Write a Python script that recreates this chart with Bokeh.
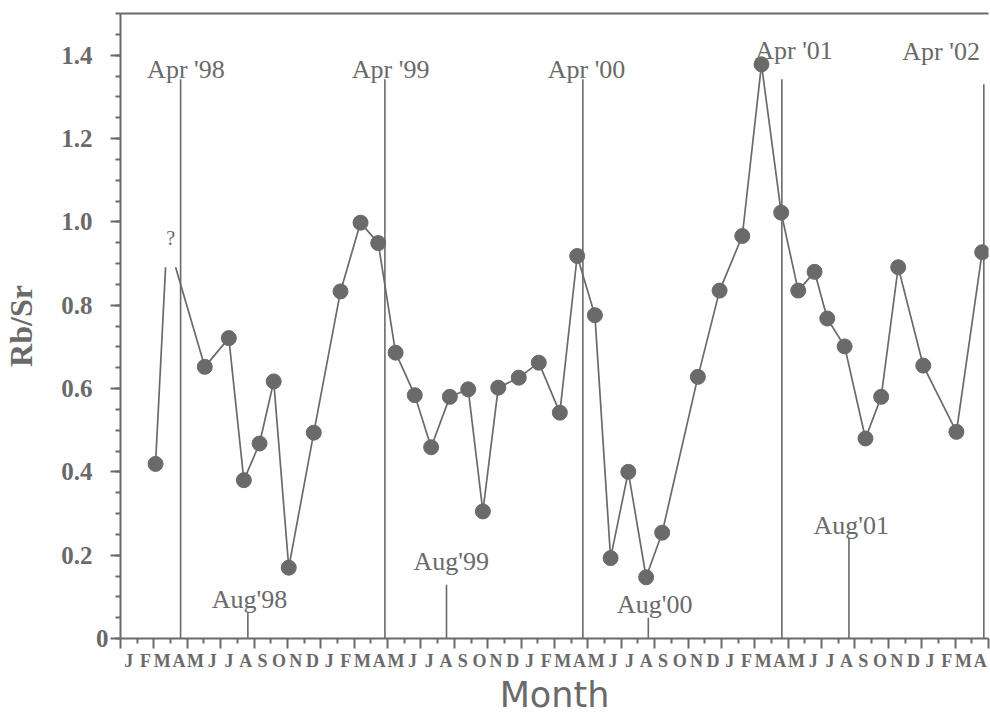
import math
from bokeh.plotting import figure
from bokeh.models import LinearAxis, FixedTicker, Range1d
from bokeh.core.properties import value
from bokeh.embed import file_html
from bokeh.resources import INLINE

# ---- data ----
month_letters = list("JFMAMJJASOND") * 4 + list("JFMA")   # Jan 1998 .. Apr 2002
month_pos = [2.10, 5.05, 6.49, 7.39, 8.33, 9.18, 10.08, 11.58, 13.18, 14.38,
             15.44, 16.48, 17.63, 18.61, 19.73, 20.83, 21.71, 22.63, 23.86, 25.06,
             26.32, 27.36, 28.42, 29.36, 30.42, 31.49, 32.45, 34.59, 35.89, 37.25,
             38.40, 39.58, 40.60, 41.58, 42.34, 43.38, 44.63, 45.57, 46.59, 48.09,
             50.08, 51.62]
rb_sr = [0.419, 0.652, 0.721, 0.380, 0.468, 0.617, 0.170, 0.494, 0.833, 0.998,
         0.949, 0.686, 0.584, 0.459, 0.580, 0.598, 0.305, 0.602, 0.626, 0.662,
         0.542, 0.918, 0.776, 0.193, 0.400, 0.147, 0.254, 0.628, 0.835, 0.966,
         1.378, 1.022, 0.835, 0.880, 0.768, 0.701, 0.480, 0.580, 0.891, 0.655,
         0.496, 0.927]
uncertain_x = [2.70, 3.30]
uncertain_y = [0.891, 0.891]
uncertain_label = "?"
uncertain_label_x = [3.0]
uncertain_label_y = [0.961]

apr_labels = ["Apr '98", "Apr '99", "Apr '00", "Apr '01", "Apr '02"]
apr_x = [3.60, 15.84, 27.70, 39.62, 51.72]
apr_top = [1.342, 1.342, 1.342, 1.342, 1.330]
apr_label_x = [3.92, 16.18, 27.92, 40.35, 49.16]
apr_label_y = [1.366, 1.366, 1.366, 1.411, 1.409]

aug_labels = ["Aug'98", "Aug'99", "Aug'00", "Aug'01"]
aug_x = [7.63, 19.53, 31.62, 43.64]
aug_top = [0.062, 0.129, 0.050, 0.242]
aug_label_x = [7.73, 19.81, 32.01, 43.78]
aug_label_y = [0.094, 0.185, 0.081, 0.272]

y_major = [0, 0.2, 0.4, 0.6, 0.8, 1.0, 1.2, 1.4]
y_minor = [round(0.05 * i, 2) for i in range(31)]

# ---- styling ----
GRAY = "#6a6a6a"
SERIF = "Liberation Serif"

n_months = len(month_letters)
p = figure(width=990, height=717, output_backend="svg", toolbar_location=None,
           x_range=Range1d(0, n_months), y_range=Range1d(0, 1.5),
           x_axis_location=None, y_axis_location=None,
           min_border_left=120, min_border_top=13, min_border_bottom=77,
           min_border_right=2)
p.xgrid.visible = False
p.ygrid.visible = False
p.outline_line_color = None
p.background_fill_color = "white"
p.border_fill_color = "white"

# x axis: tick marks only
xa = LinearAxis(ticker=FixedTicker(ticks=list(range(0, n_months + 1, 2)),
                                   minor_ticks=list(range(1, n_months, 2))))
xa.major_label_overrides = {i: "" for i in range(0, n_months + 1, 2)}
xa.major_label_text_font_size = "1px"
xa.major_label_standoff = 0
xa.axis_line_color = GRAY
xa.axis_line_width = 2
xa.major_tick_line_color = GRAY
xa.minor_tick_line_color = GRAY
xa.major_tick_line_width = 2
xa.minor_tick_line_width = 2
xa.major_tick_in = 0
xa.minor_tick_in = 0
xa.major_tick_out = 10
xa.minor_tick_out = 5
p.add_layout(xa, "below")

# x axis: month letters
label_pos = [i + 0.5 for i in range(n_months)]
xl = LinearAxis(ticker=FixedTicker(ticks=label_pos, minor_ticks=[]))
xl.major_label_overrides = {lp: m for lp, m in zip(label_pos, month_letters)}
xl.major_label_text_font = SERIF
xl.major_label_text_font_style = "bold"
xl.major_label_text_font_size = "18px"
xl.major_label_text_color = GRAY
xl.major_label_standoff = 2
xl.axis_line_color = None
xl.major_tick_line_color = None
xl.minor_tick_line_color = None
xl.major_tick_out = 0
xl.minor_tick_out = 0
xl.axis_label = "Month"
xl.axis_label_text_font = "DejaVu Sans"
xl.axis_label_text_font_style = "normal"
xl.axis_label_text_font_size = "35px"
xl.axis_label_text_color = GRAY
xl.axis_label_standoff = 1
p.add_layout(xl, "below")

# y axis: ticks + "0"
ya = LinearAxis(ticker=FixedTicker(ticks=y_major, minor_ticks=y_minor))
ya.major_label_overrides = {v: ("0" if v == 0 else "") for v in y_major}
ya.major_label_text_font = SERIF
ya.major_label_text_font_style = "bold"
ya.major_label_text_font_size = "25px"
ya.major_label_text_color = GRAY
ya.major_label_standoff = 2
ya.axis_line_color = GRAY
ya.axis_line_width = 2
ya.major_tick_line_color = GRAY
ya.minor_tick_line_color = GRAY
ya.major_tick_line_width = 2
ya.minor_tick_line_width = 2
ya.major_tick_in = 0
ya.minor_tick_in = 0
ya.major_tick_out = 10
ya.minor_tick_out = 5
p.add_layout(ya, "left")

# y axis: other labels
yl_ticks = y_major[1:]
yl = LinearAxis(ticker=FixedTicker(ticks=yl_ticks, minor_ticks=[]))
yl.major_label_overrides = {v: f"{v:.1f}" for v in yl_ticks}
yl.major_label_text_font = SERIF
yl.major_label_text_font_style = "bold"
yl.major_label_text_font_size = "25px"
yl.major_label_text_color = GRAY
yl.major_label_standoff = 0
yl.axis_line_color = None
yl.major_tick_line_color = None
yl.minor_tick_line_color = None
yl.major_tick_out = 0
yl.minor_tick_out = 0
yl.axis_label = "Rb/Sr"
yl.axis_label_text_font = SERIF
yl.axis_label_text_font_style = "bold"
yl.axis_label_text_font_size = "32px"
yl.axis_label_text_color = GRAY
yl.axis_label_standoff = 19
p.add_layout(yl, "left")

# top border line
ta = LinearAxis(ticker=FixedTicker(ticks=[], minor_ticks=[]))
ta.major_label_text_font_size = "1px"
ta.major_label_standoff = 0
ta.major_tick_out = 0
ta.minor_tick_out = 0
ta.axis_line_color = GRAY
ta.axis_line_width = 2
p.add_layout(ta, "above")

# event lines
p.segment(x0=apr_x, y0=[0] * len(apr_x), x1=apr_x, y1=apr_top,
          line_color=GRAY, line_width=1.6)
p.segment(x0=aug_x, y0=[0] * len(aug_x), x1=aug_x, y1=aug_top,
          line_color=GRAY, line_width=1.6)

# data line with gap at uncertain month
line_x = [month_pos[0], uncertain_x[0], math.nan, uncertain_x[1]] + month_pos[1:]
line_y = [rb_sr[0], uncertain_y[0], math.nan, uncertain_y[1]] + rb_sr[1:]
p.line(line_x, line_y, line_color=GRAY, line_width=1.7)
p.scatter(month_pos, rb_sr, size=15, fill_color=GRAY, line_color=GRAY)

# annotations
p.text(x=apr_label_x, y=apr_label_y, text=apr_labels, text_align="center",
       text_baseline="alphabetic", text_font=value(SERIF),
       text_font_size="26px", text_color=GRAY)
p.text(x=aug_label_x, y=aug_label_y, text=aug_labels, text_align="center",
       text_baseline="alphabetic", text_font=value(SERIF),
       text_font_size="26px", text_color=GRAY)
p.text(x=uncertain_label_x, y=uncertain_label_y, text=[uncertain_label],
       text_align="center", text_baseline="alphabetic", text_font=value(SERIF),
       text_font_size="20px", text_color=GRAY)

open("out.html", "w").write(file_html(p, INLINE))
